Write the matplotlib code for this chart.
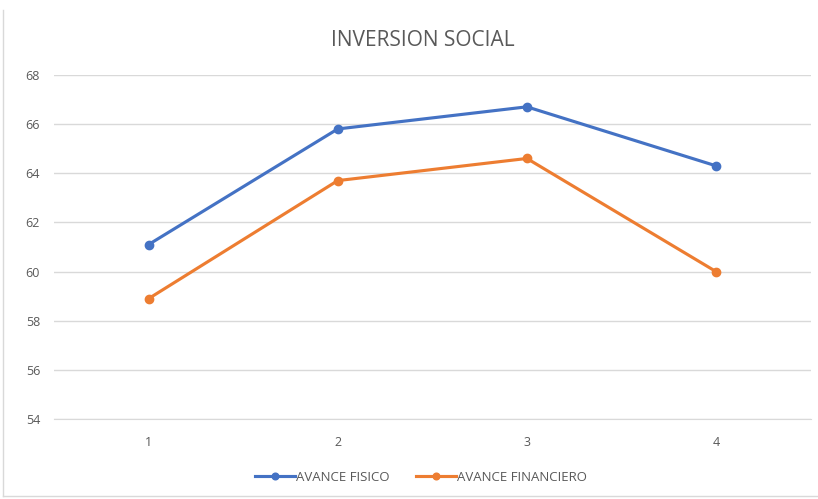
import matplotlib.pyplot as plt
import numpy as np

categorias = ['1', '2', '3', '4']
avance_fisico = [61.1, 65.8, 66.7, 64.3]
avance_financiero = [58.9, 63.7, 64.6, 60.0]
y_ticks = [54, 56, 58, 60, 62, 64, 66, 68]

plt.rcParams['font.family'] = ['Open Sans', 'DejaVu Sans']

fig = plt.figure(figsize=(8.18, 4.99), dpi=100)
ax = fig.add_axes([0.066, 0.160, 0.925, 0.690])

x = np.arange(1, len(categorias) + 1)
ax.plot(x, avance_fisico, color='#4472C4', linewidth=2.25, marker='o',
        markersize=6, label='AVANCE FISICO', zorder=3)
ax.plot(x, avance_financiero, color='#ED7D31', linewidth=2.25, marker='o',
        markersize=6, label='AVANCE FINANCIERO', zorder=3)

ax.set_xlim(0.5, 4.5)
ax.set_ylim(54, 68)
ax.set_yticks(y_ticks)
ax.set_xticks(x)
ax.set_xticklabels(categorias)
ax.grid(axis='y', color='#D9D9D9', linewidth=1)
ax.set_axisbelow(True)
for s in ['top', 'right', 'left']:
    ax.spines[s].set_visible(False)
ax.spines['bottom'].set_color('#D9D9D9')
ax.tick_params(axis='both', length=0, colors='#595959', labelsize=9)
ax.tick_params(axis='x', pad=12)
ax.tick_params(axis='y', pad=10)

fig.text(0.517, 0.918, 'INVERSION SOCIAL', ha='center', va='center',
         fontsize=15, color='#595959')

leg = fig.legend(loc='center', bbox_to_anchor=(0.515, 0.044), ncol=2,
                 frameon=False, fontsize=9.5, handlelength=3.0,
                 columnspacing=2.0, handletextpad=0.1, markerscale=0.8)
for t in leg.get_texts():
    t.set_color('#595959')

# marco del grafico (izquierda y abajo)
fig.add_artist(plt.Line2D([0.004, 0.004], [0.006, 0.98], transform=fig.transFigure,
                          color='#D9D9D9', linewidth=1))
fig.add_artist(plt.Line2D([0.004, 1.0], [0.006, 0.006], transform=fig.transFigure,
                          color='#D9D9D9', linewidth=1))

plt.savefig('out.png', dpi=100)
